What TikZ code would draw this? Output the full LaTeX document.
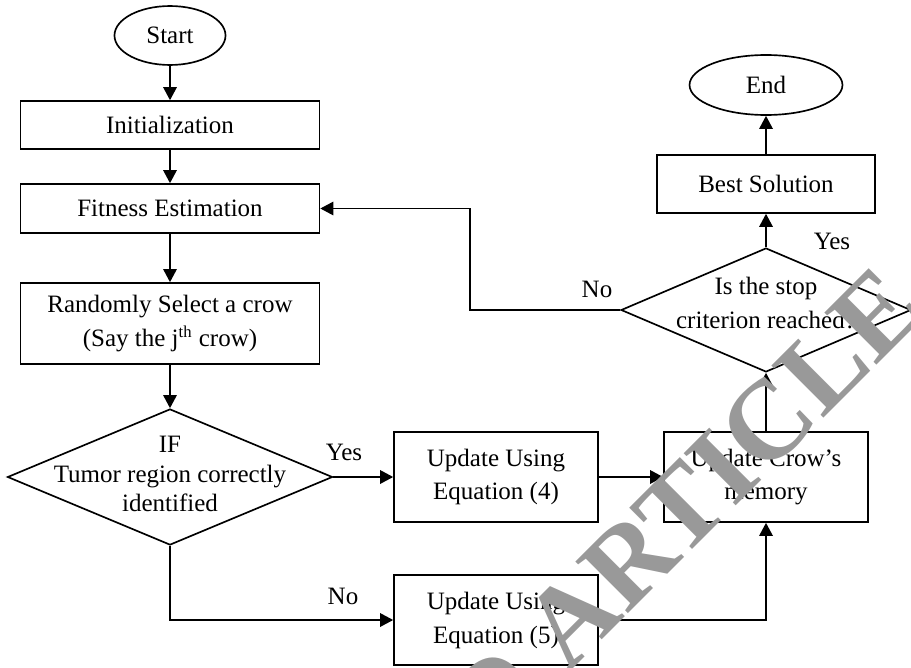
\documentclass[tikz,border=0pt]{standalone}
\usepackage{fontspec}
\setmainfont{Liberation Serif}
\usetikzlibrary{arrows.meta,shapes.geometric}

\begin{document}
\begin{tikzpicture}[x=0.48pt, y=-0.48pt, line width=0.8pt,
	every node/.style={font=\fontsize{12}{16.3}\selectfont},
	>={Triangle[length=6.3pt, width=6.5pt]},
	proc/.style={draw, rectangle, align=center},
	terminal/.style={draw, ellipse, inner sep=0pt},
	decision/.style={draw, diamond, inner sep=0pt}]
	\useasboundingbox (0,0) rectangle (911,667);
	% left column
	\node[terminal, minimum width=53.3pt, minimum height=28.3pt] (start) at (170,35.5) {Start};
	\node[proc, minimum width=143.5pt, minimum height=23pt] (init) at (170,125) {Initialization};
	\node[proc, minimum width=143.5pt, minimum height=23.5pt] (fit) at (170,208.5) {Fitness Estimation};
	\node[proc, minimum width=143.5pt, minimum height=38.9pt] (sel) at (170,323.5) {Randomly Select a crow\\(Say the j\textsuperscript{th} crow)};
	\node[decision, minimum width=156pt, minimum height=65.3pt] (tumor) at (170,477) {};
	\node[align=center, font=\fontsize{12}{14.2}\selectfont] (tumortext) at (170,474) {IF\\Tumor region correctly\\identified};
	% middle column
	\node[proc, minimum width=97.9pt, minimum height=43.2pt] (upfour) at (496,477) {Update Using\\Equation (4)};
	\node[proc, minimum width=97.9pt, minimum height=43.2pt] (upfive) at (496,620) {Update Using\\Equation (5)};
	% right column
	\node[proc, minimum width=97.9pt, minimum height=43.2pt] (mem) at (766,477) {Update Crow’s\\memory};
	\node[decision, minimum width=139.2pt, minimum height=59.5pt] (stop) at (766,310) {};
	\node[align=center] (stoptext) at (766,303) {Is the stop\\criterion reached?};
	\node[proc, minimum width=104.6pt, minimum height=27.8pt] (best) at (766,184) {Best Solution};
	\node[terminal, minimum width=73.4pt, minimum height=28.8pt] (end) at (766,85) {End};
	\coordinate (back) at (470,310);
	% connectors
	\draw[->] (start) -- (init);
	\draw[->] (init) -- (fit);
	\draw[->] (fit) -- (sel);
	\draw[->] (sel) -- (tumor);
	\draw[->] (tumor) -- (upfour);
	\draw[->] (tumor.south) |- (upfive.west);
	\draw[->] (upfour) -- (mem);
	\draw[->] (upfive.east) -| (mem.south);
	\draw[->] (mem) -- (stop);
	\draw[->] (stop) -- (best);
	\draw[->] (best) -- (end);
	\draw[->] (stop.west) -- (back) |- (fit.east);
	\node (yesone) at (344,452) {Yes};
	\node (noone) at (343,596) {No};
	\node (yestwo) at (832,241) {Yes};
	\node (notwo) at (597,289) {No};
	% stamp
	\node[rotate=45, anchor=east, inner sep=0pt, text=black!40, font=\fontsize{54}{54}\bfseries\selectfont] (stamp) at (903,287) {RETRACTED ARTICLE};
\end{tikzpicture}
\end{document}
